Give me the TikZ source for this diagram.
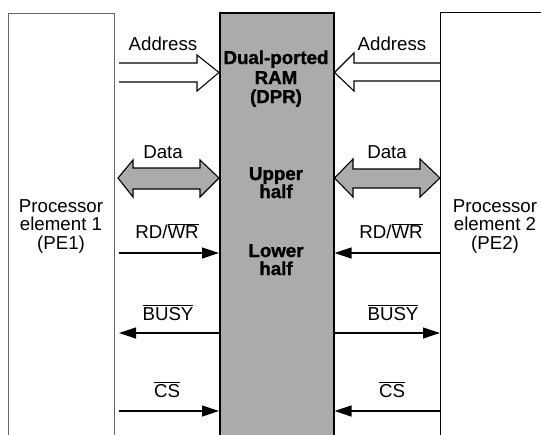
\documentclass[tikz,border=0pt]{standalone}
\usepackage{fontspec}
\setmainfont{Liberation Sans}
\newfontfamily\heavyfont{Liberation Sans}[BoldFeatures={FakeBold=1.3}]
\usetikzlibrary{arrows.meta}
\newcommand\ovl[1]{$\overline{\hbox{#1}}$}
\colorlet{halftone}{black!33}
\tikzset{
  lbl/.style={font=\fontsize{18.7}{18.5}\selectfont, inner sep=0pt, anchor=base},
  ramtxt/.style={font=\fontsize{18.7}{18.8}\selectfont\heavyfont\bfseries, align=center, inner sep=0pt, anchor=base},
  pebox/.style={draw, anchor=north west, inner sep=0pt},
  sig/.style={line width=1.2pt, -{Triangle[length=17pt,width=11pt]}},
  hollow/.style={line width=1.1pt, line join=miter},
  bus/.style={line width=1.1pt, fill=halftone, line join=miter},
}
\begin{document}
\begin{tikzpicture}[x=1pt,y=-1pt]
\useasboundingbox (0,0) rectangle (541,434);

% processors and the dual-ported memory
\node[pebox, draw=black!60, line width=1pt, minimum width=106pt, minimum height=470pt] (pe1) at (8,13) {};
\node[pebox, line width=1.2pt, minimum width=200pt, minimum height=470pt] (pe2) at (440,12) {};
\node[pebox, fill=halftone, line width=1.5pt, minimum width=114pt, minimum height=470pt] (dpr) at (219,12) {};

\node[lbl, align=center, anchor=north] (pe1t) at (61,199) {Processor\\element 1\\(PE1)};
\node[lbl, align=center, anchor=north] (pe2t) at (495,199) {Processor\\element 2\\(PE2)};

\node[ramtxt] (ram1) at (276,64) {Dual-ported};
\node[ramtxt] (ram2) at (276,84) {RAM};
\node[ramtxt] (ram3) at (276,103) {(DPR)};
\node[ramtxt] (up1) at (276,180) {Upper};
\node[ramtxt] (up2) at (276,198) {half};
\node[ramtxt] (lo1) at (276,257) {Lower};
\node[ramtxt] (lo2) at (276,275) {half};

% signal rows
\coordinate (yAd) at (0,72.5);
\coordinate (yDa) at (0,178);
\coordinate (yRD) at (0,253);
\coordinate (yBU) at (0,333);
\coordinate (yCS) at (0,411);
\coordinate (lRD) at (119,253);
\coordinate (lBU) at (119,333);
\coordinate (lCS) at (119,411);

% labels
\node[lbl] (adL) at (163,50) {Address};
\node[lbl] (adR) at (392,50) {Address};
\node[lbl] (daL) at (163,158) {Data};
\node[lbl] (daR) at (387,158) {Data};
\node[lbl] (rdL) at (167,238) {RD/\ovl{WR}};
\node[lbl] (rdR) at (391,238) {RD/\ovl{WR}};
\node[lbl] (buL) at (168,320) {\ovl{BUSY}};
\node[lbl] (buR) at (393,320) {\ovl{BUSY}};
\node[lbl] (csL) at (167,397) {\ovl{CS}};
\node[lbl] (csR) at (392,397) {\ovl{CS}};

% address buses (hollow arrows)
\draw[hollow] (119,63) -- (197,63) -- (197,55) -- (dpr.west |- yAd) -- (197,91) -- (197,82) -- (119,82);
\draw[hollow] (pe2.west |- 0,63) -- (354,63) -- (354,53) -- (dpr.east |- yAd) -- (354,91) -- (354,81) -- (pe2.west |- 0,81);

% data buses (shaded double arrows)
\draw[bus] (118,178) -- (133,160) -- (133,168) -- (200,168) -- (200,160) -- (dpr.west |- yDa)
  -- (200,197) -- (200,189) -- (133,189) -- (133,197) -- cycle;
\draw[bus] (dpr.east |- yDa) -- (353,159) -- (353,169) -- (420,169) -- (420,159) -- (pe2.west |- yDa)
  -- (420,197) -- (420,188) -- (353,188) -- (353,197) -- cycle;

% control lines
\draw[sig] (lRD) -- (dpr.west |- yRD);
\draw[sig] (dpr.west |- yBU) -- (lBU);
\draw[sig] (lCS) -- (dpr.west |- yCS);
\draw[sig] (pe2.west |- yRD) -- (dpr.east |- yRD);
\draw[sig] (dpr.east |- yBU) -- (pe2.west |- yBU);
\draw[sig] (pe2.west |- yCS) -- (dpr.east |- yCS);
\end{tikzpicture}
\end{document}
